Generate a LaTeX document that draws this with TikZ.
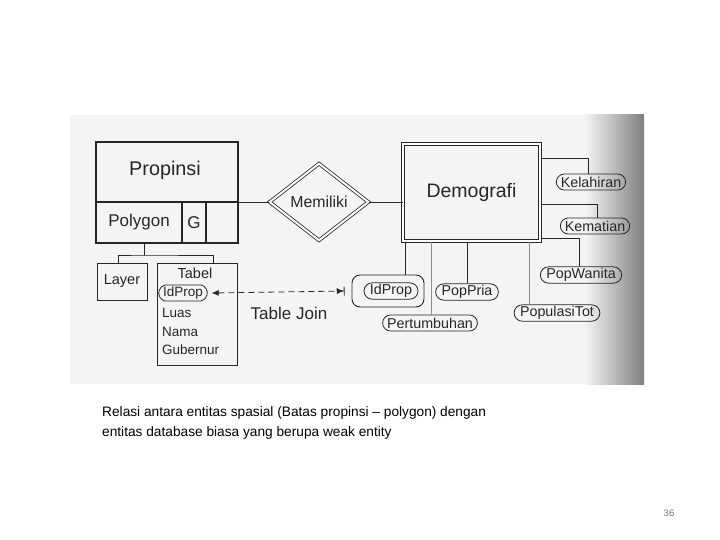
\documentclass[tikz,border=0pt]{standalone}
\usepackage{fontspec}
\setmainfont{Liberation Sans}
\usetikzlibrary{shapes.geometric,shapes.misc,arrows.meta,calc}
\definecolor{ink}{HTML}{262626}
\definecolor{paper}{HTML}{F4F4F4}
\begin{document}
\begin{tikzpicture}[x=1pt,y=-1pt,
  ln/.style={draw=ink,line width=0.9pt},
  cell/.style={ln,rectangle,inner sep=0pt,text=ink},
  attr/.style={draw=ink,line width=0.8pt,rounded rectangle,inner sep=1.5pt,inner xsep=2.5pt,
    minimum height=16pt,text=ink,font=\fontsize{14.3}{14.3}\selectfont},
  item/.style={inner sep=0pt,text=ink,font=\fontsize{13.5}{13.5}\selectfont},
  conn/.style={draw=ink,line width=0.8pt},
  lconn/.style={draw=black!45,line width=0.8pt}
]
\useasboundingbox (0,0) rectangle (720,540);
% scanned background
\fill[paper] (70,115) rectangle (585,384);
\shade[left color=paper,right color=black!50] (585,115) rectangle (644,384);

% Propinsi entity
\node[cell,line width=1.3pt,minimum width=142pt,minimum height=60pt] (prop) at (167,172) {};
\node[text=ink,font=\fontsize{19.8}{19.8}\selectfont] at (165,170) {Propinsi};
\node[cell,line width=1.3pt,minimum width=86pt,minimum height=41pt,font=\fontsize{17}{17}\selectfont] (poly) at (139,222.5) {Polygon};
\node[cell,line width=1.3pt,minimum width=24pt,minimum height=41pt,font=\fontsize{17}{17}\selectfont] (g) at (194,222.5) {G};
\node[cell,line width=1.3pt,minimum width=32pt,minimum height=41pt] (emp) at (222,222.5) {};

% relationship
\node[diamond,aspect=1.28,draw=ink,line width=0.8pt,double,double distance=2pt,inner sep=0pt,
  minimum width=99pt,minimum height=77pt,text=ink,font=\fontsize{15.8}{15.8}\selectfont] (mem) at (319,202) {Memiliki};

% Demografi weak entity
\node[cell,line width=1pt,double,double distance=2.5pt,minimum width=137pt,minimum height=97pt,
  font=\fontsize{19.5}{19.5}\selectfont] (demo) at (471.5,192.5) {Demografi};

\draw[conn] (emp.north east |- mem.west) -- (mem.west);
\draw[conn] (mem.east) -- (mem.east -| demo.west);

% attributes of Demografi
\node[attr] (kel) at (591,182) {Kelahiran};
\node[attr] (kem) at (595,226) {Kematian};
\node[attr] (pw) at (581,275) {PopWanita};
\node[attr] (pt) at (557,313) {PopulasiTot};
\node[attr] (pp) at (467,292) {PopPria};
\node[attr] (pert) at (430,323) {Pertumbuhan};
\node[draw=ink,line width=0.9pt,rounded corners=8pt,minimum width=72pt,minimum height=32pt] (idpo) at (388,291) {};
\node[attr] (idp) at (391,291) {IdProp};

\draw[conn] ($(demo.north east)+(0,15)$) -| ([xshift=-3pt]kel.north);
\draw[conn] ($(demo.north east)+(0,61)$) -| ([xshift=2pt]kem.north);
\draw[conn] ($(demo.north east)+(0,95)$) -| ([xshift=-2pt]pw.north);
\draw[lconn] ([xshift=-28pt]pt.north |- demo.south) -- ([xshift=-28pt]pt.north);
\draw[lconn] ([xshift=1pt]pert.north |- demo.south) -- ([xshift=1pt]pert.north);
\draw[conn] (pp.north |- demo.south) -- (pp.north);
\draw[conn] ([xshift=17pt]idpo.north |- demo.south) -- ([xshift=17pt]idpo.north);

% Layer and Tabel
\node[cell,minimum width=50pt,minimum height=37pt,font=\fontsize{14.5}{14.5}\selectfont] (layer) at (122,281.5) {Layer};
\node[cell,minimum width=80pt,minimum height=102pt] (tab) at (197,314) {};
\node[item,font=\fontsize{14.5}{14.5}\selectfont] (ttl) at (195,273) {Tabel};
\node[attr,font=\fontsize{13.5}{13.5}\selectfont,inner xsep=1.5pt,rounded rectangle arc length=150] (tid) at (183,293) {IdProp};
\node[item,anchor=west] (luas) at (162,313) {Luas};
\node[item,anchor=west] (nama) at (162,332) {Nama};
\node[item,anchor=west] (gub) at (162,350) {Gubernur};

\coordinate (j) at (144,255);
\draw[conn] (j |- poly.south) -- (j);
\draw[conn] ([xshift=-4pt]layer.north) |- (j) -| ([xshift=16pt]tab.north);

% Table Join
\draw[conn,dashed,dash pattern=on 6pt off 4pt,
  {Latex[length=7pt,width=6pt]}-{Latex[length=7pt,width=6pt] Bar[width=9pt]}]
  ([xshift=4pt]tid.east) -- ([xshift=-7pt]idpo.west);
\node[text=ink,font=\fontsize{17}{17}\selectfont] (tj) at (289,313) {Table Join};

% caption
\node[anchor=west,inner sep=0pt,align=left,font=\fontsize{13.7}{20}\selectfont] (cap) at (102,423)
  {Relasi antara entitas spasial (Batas propinsi -- polygon) dengan\\entitas database biasa yang berupa weak entity};
\node[text=black!55,font=\fontsize{9.5}{9.5}\selectfont] (pg) at (669,513) {36};
\end{tikzpicture}
\end{document}
